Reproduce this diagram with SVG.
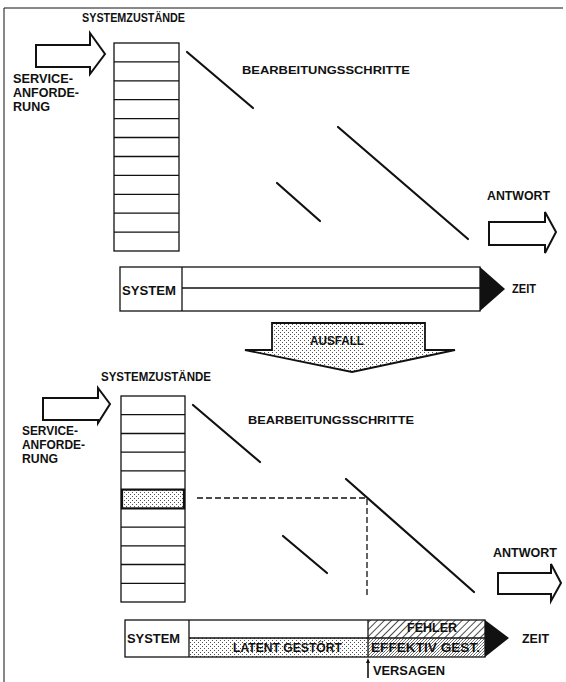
<svg xmlns="http://www.w3.org/2000/svg" width="566" height="682" viewBox="0 0 566 682">
  <style>
    .t { font-family: "Liberation Sans", Arial, sans-serif; font-weight: bold; font-size: 12px; fill: #111; }
    .ts { font-size: 11px; }
    .ln { fill: none; stroke: #111; stroke-width: 1.3; }
    .thin { fill: none; stroke: #111; stroke-width: 1; }
    .step { stroke: #111; stroke-width: 2.2; stroke-linecap: round; }
    .dash { fill: none; stroke: #111; stroke-width: 1.3; stroke-dasharray: 6 3; }
    .arrow { fill: #fff; stroke: #111; stroke-width: 2; stroke-linejoin: miter; }
  </style>
  <defs>
    <pattern id="stipple" width="4" height="4" patternUnits="userSpaceOnUse">
      <rect width="4" height="4" fill="#fff"/>
      <rect x="0" y="0" width="1" height="1" fill="#555"/>
      <rect x="2" y="2" width="1" height="1" fill="#555"/>
    </pattern>
    <pattern id="stippleDense" width="3" height="3" patternUnits="userSpaceOnUse">
      <rect width="3" height="3" fill="#fff"/>
      <rect x="0" y="0" width="1" height="1" fill="#666"/>
      <rect x="2" y="1" width="1" height="1" fill="#777"/>
      <rect x="1" y="2" width="1" height="1" fill="#888"/>
    </pattern>
    <pattern id="hatch" width="5" height="5" patternUnits="userSpaceOnUse" patternTransform="rotate(45)">
      <rect width="5" height="5" fill="#fff"/>
      <line x1="0" y1="0" x2="0" y2="5" stroke="#111" stroke-width="1.5"/>
    </pattern>
  </defs>

  <rect width="566" height="682" fill="#fff"/>

  <!-- outer frame -->
  <g id="frame">
    <path class="thin" d="M563,8 H4 V682"/>
  </g>

  <!-- ===== upper half: normal operation ===== -->
  <g id="top-states-label">
    <text class="t" x="82" y="22" textLength="103" lengthAdjust="spacingAndGlyphs">SYSTEMZUSTÄNDE</text>
  </g>

  <g id="top-request">
    <polygon class="arrow" points="36,45 90,45 90,33 105,54 90,74 90,67 36,67"/>
    <text class="t" x="13" y="83" textLength="60" lengthAdjust="spacingAndGlyphs">SERVICE-</text>
    <text class="t" x="13" y="97" textLength="66" lengthAdjust="spacingAndGlyphs">ANFORDE-</text>
    <text class="t" x="13" y="111" textLength="37" lengthAdjust="spacingAndGlyphs">RUNG</text>
  </g>

  <g id="top-stack">
    <rect class="ln" x="114" y="43" width="65" height="208"/>
    <path class="ln" d="M114,61.9 H179 M114,80.8 H179 M114,99.7 H179 M114,118.6 H179 M114,137.5 H179 M114,156.5 H179 M114,175.4 H179 M114,194.3 H179 M114,213.2 H179 M114,232.1 H179"/>
  </g>

  <g id="top-steps-label">
    <text class="t ts" x="242" y="74" textLength="168" lengthAdjust="spacingAndGlyphs">BEARBEITUNGSSCHRITTE</text>
  </g>

  <g id="top-response">
    <text class="t" x="487" y="200" textLength="63" lengthAdjust="spacingAndGlyphs">ANTWORT</text>
    <polygon class="arrow" points="489,222 545,222 545,212 556,232 545,253 545,245 489,245"/>
  </g>

  <g id="top-timeline">
    <rect class="ln" x="120" y="267" width="360" height="44"/>
    <line class="ln" x1="182" y1="267" x2="182" y2="311"/>
    <line class="ln" x1="182" y1="288" x2="480" y2="288"/>
    <polygon points="480,267 505,289 480,311" fill="#111"/>
    <text class="t" x="122" y="295" textLength="54" lengthAdjust="spacingAndGlyphs">SYSTEM</text>
    <text class="t" x="512" y="293" textLength="24" lengthAdjust="spacingAndGlyphs">ZEIT</text>
  </g>

  <!-- failure transition -->
  <g id="failure-arrow">
    <polygon points="272,323 425,323 425,350 455,350 352,372 245,350 272,350" fill="url(#stipple)" stroke="#111" stroke-width="1.8"/>
    <text class="t" x="310" y="345" textLength="54" lengthAdjust="spacingAndGlyphs">AUSFALL</text>
  </g>

  <!-- ===== lower half: failure case ===== -->
  <g id="bottom-states-label">
    <text class="t" x="101" y="381" textLength="110" lengthAdjust="spacingAndGlyphs">SYSTEMZUSTÄNDE</text>
  </g>

  <g id="bottom-request">
    <polygon class="arrow" points="43,398 98,398 98,388 110,404 98,423 98,420 43,420"/>
    <text class="t" x="22" y="435" textLength="56" lengthAdjust="spacingAndGlyphs">SERVICE-</text>
    <text class="t" x="22" y="449" textLength="63" lengthAdjust="spacingAndGlyphs">ANFORDE-</text>
    <text class="t" x="22" y="463" textLength="36" lengthAdjust="spacingAndGlyphs">RUNG</text>
  </g>

  <g id="bottom-stack">
    <rect class="ln" x="121" y="396" width="64" height="206"/>
    <path class="ln" d="M121,414.7 H185 M121,433.5 H185 M121,452.2 H185 M121,470.9 H185 M121,527.1 H185 M121,545.8 H185 M121,564.5 H185 M121,583.3 H185"/>
    <rect x="122" y="489.6" width="62" height="18.8" fill="url(#stipple)" stroke="#111" stroke-width="2.2"/>
  </g>

  <g id="bottom-steps-label">
    <text class="t ts" x="248" y="424" textLength="166" lengthAdjust="spacingAndGlyphs">BEARBEITUNGSSCHRITTE</text>
  </g>

  <g id="bottom-response">
    <text class="t" x="493" y="557" textLength="64" lengthAdjust="spacingAndGlyphs">ANTWORT</text>
    <polygon class="arrow" points="498,573 551,573 551,564 561,583 551,601 551,594 498,594"/>
  </g>

  <g id="bottom-timeline">
    <rect x="189" y="638" width="179" height="19" fill="url(#stipple)"/>
    <rect x="368" y="620" width="117" height="18" fill="url(#hatch)"/>
    <rect x="368" y="638" width="117" height="19" fill="url(#stippleDense)"/>
    <rect class="ln" x="125" y="620" width="360" height="37"/>
    <line class="ln" x1="189" y1="620" x2="189" y2="657"/>
    <line class="ln" x1="189" y1="638" x2="485" y2="638"/>
    <line class="ln" x1="368" y1="620" x2="368" y2="657"/>
    <polygon points="485,620 509,638 485,657" fill="#111"/>
    <text class="t" x="127" y="643" textLength="53" lengthAdjust="spacingAndGlyphs">SYSTEM</text>
    <text class="t" x="233" y="652" textLength="109" lengthAdjust="spacingAndGlyphs">LATENT GESTÖRT</text>
    <text class="t" x="407" y="632" textLength="50" lengthAdjust="spacingAndGlyphs">FEHLER</text>
    <text class="t" x="371" y="652" textLength="109" lengthAdjust="spacingAndGlyphs">EFFEKTIV GEST.</text>
    <text class="t" x="522" y="643" textLength="27" lengthAdjust="spacingAndGlyphs">ZEIT</text>
  </g>

  <g id="failure-point">
    <line x1="368" y1="678" x2="368" y2="662" stroke="#111" stroke-width="1.6"/>
    <polygon points="366,663 370,663 368,658" fill="#111"/>
    <text class="t" x="373" y="675" textLength="72" lengthAdjust="spacingAndGlyphs">VERSAGEN</text>
  </g>

  <!-- processing steps and failure trace -->
  <g id="connectors">
    <line class="step" x1="187" y1="52" x2="253" y2="108"/>
    <line class="step" x1="277" y1="183" x2="320" y2="221"/>
    <line class="step" x1="338" y1="127" x2="468" y2="239"/>

    <line class="step" x1="193" y1="405" x2="260" y2="462"/>
    <line class="step" x1="283" y1="536" x2="327" y2="573"/>
    <line class="step" x1="346" y1="479" x2="474" y2="592"/>

    <path class="dash" d="M197,498 H367 V598"/>
  </g>
</svg>
